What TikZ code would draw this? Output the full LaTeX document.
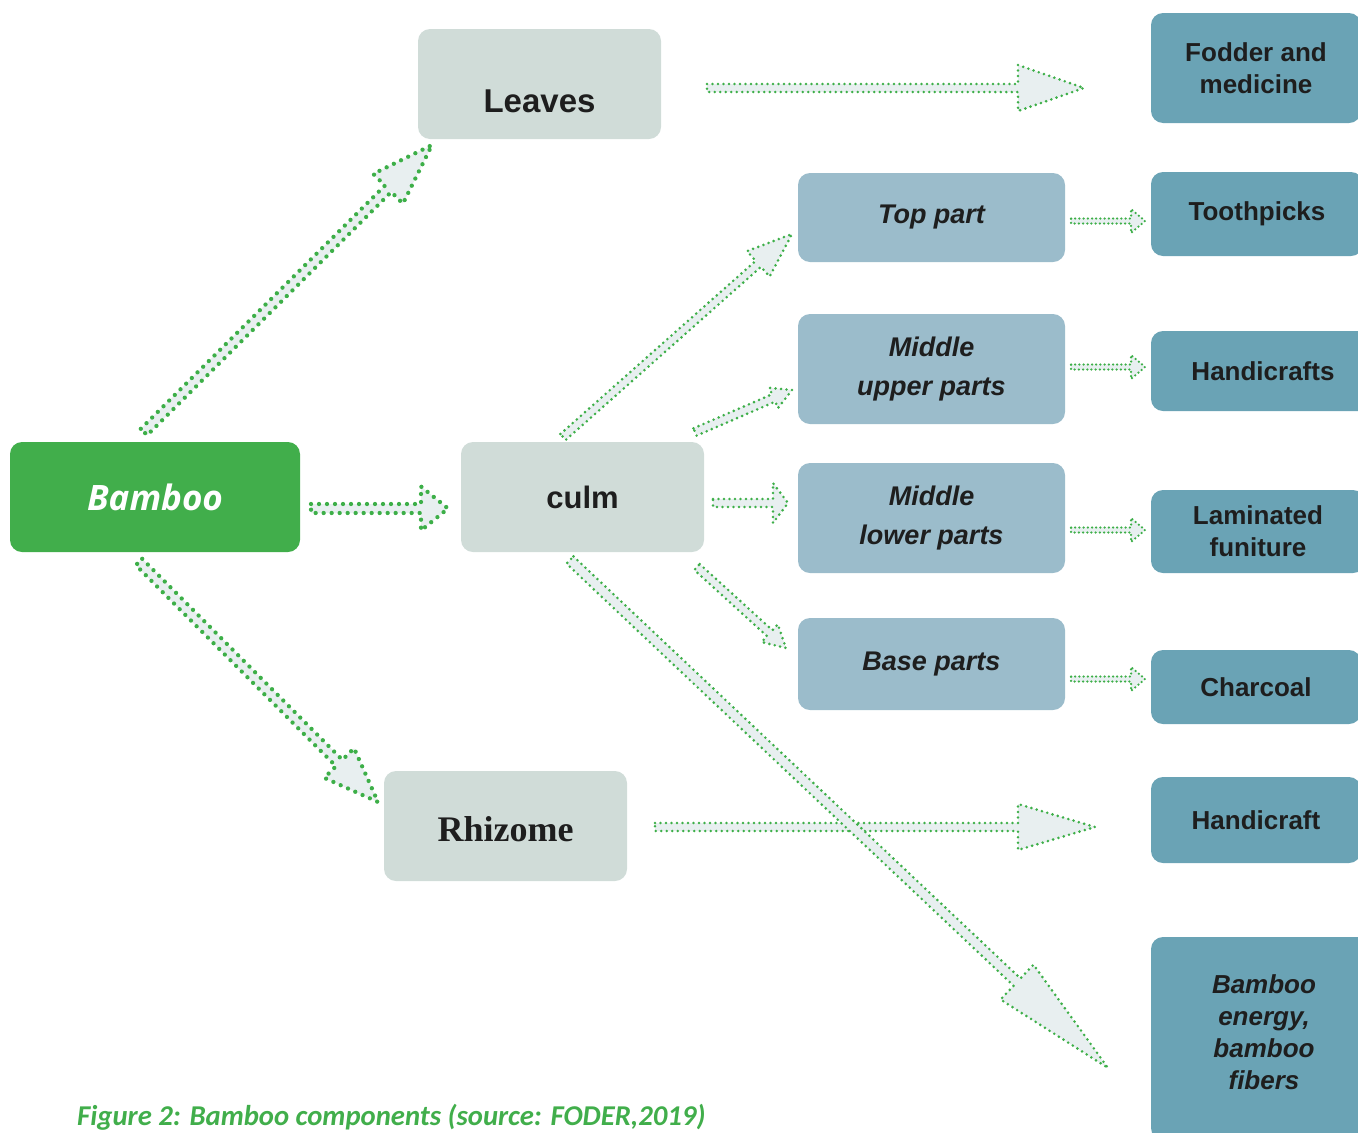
\documentclass[tikz,border=0pt]{standalone}
\usepackage{fontspec}
\setmainfont{Liberation Sans}
\newfontfamily\osans{Open Sans}
\newfontfamily\carl{Carlito}
\newfontfamily\lserif{Liberation Serif}
\usetikzlibrary{calc}
\definecolor{bambooG}{HTML}{41AE4B}
\definecolor{greyBox}{HTML}{D0DCD8}
\definecolor{midBlue}{HTML}{9BBCCB}
\definecolor{darkTeal}{HTML}{6AA3B5}
\definecolor{dotG}{HTML}{3DAF48}
\definecolor{arrFill}{HTML}{E8EFF0}
\definecolor{txt}{HTML}{1E1E1E}
\tikzset{
  box/.style={rectangle, rounded corners=12pt, draw=none, inner sep=0pt, align=center, text=txt},
  greybox/.style={box, fill=greyBox, minimum width=243pt, minimum height=110pt},
  bluebox/.style={box, fill=midBlue, minimum width=267pt, font=\fontsize{27}{39}\selectfont\bfseries\itshape},
  tealbox/.style={box, fill=darkTeal, font=\fontsize{26}{32}\selectfont\bfseries},
  barrow/.style={draw=dotG, fill=arrFill, line width=2.9pt, line cap=round, line join=round, dash pattern=on 0pt off 5.5pt},
  bigdots/.style={line width=4.3pt, dash pattern=on 0pt off 8pt},
  smalldots/.style={line width=2.5pt, dash pattern=on 0pt off 4.2pt},
}
\newcommand\blockarrow[6][]{%
  \path[barrow,#1] let \p1=($(#3)-(#2)$), \n1={atan2(\y1,\x1)}, \n2={veclen(\x1,\y1)} in
    ($(#2)+(\n1+90:#4pt)$)
    -- ($(#2)+(\n1:{(\n2-#5)*1pt})+(\n1+90:#4pt)$)
    -- ($(#2)+(\n1:{(\n2-#5)*1pt})+(\n1+90:#6pt)$)
    -- (#3)
    -- ($(#2)+(\n1:{(\n2-#5)*1pt})+(\n1-90:#6pt)$)
    -- ($(#2)+(\n1:{(\n2-#5)*1pt})+(\n1-90:#4pt)$)
    -- ($(#2)+(\n1-90:#4pt)$) -- cycle;}
\begin{document}
\begin{tikzpicture}[x=1pt,y=-1pt]
\useasboundingbox (0,0) rectangle (1358,1133);
% main nodes
\node[box, fill=bambooG, minimum width=290pt, minimum height=110pt, text=white, font=\osans\fontsize{35}{40}\selectfont\bfseries\itshape] (bamboo) at (155,497) {Bamboo};
\node[greybox, label={[font=\fontsize{33}{40}\selectfont\bfseries, text=txt, yshift=-17pt]center:Leaves}] (leaves) at (539.5,84) {};
\node[greybox, font=\fontsize{31}{38}\selectfont\bfseries] (culm) at (582.5,497) {culm};
\node[greybox, label={[font=\lserif\fontsize{36}{42}\selectfont\bfseries, text=txt, yshift=-3pt]center:Rhizome}] (rhizome) at (505.5,826) {};
% middle column
\node[bluebox, minimum height=89pt] (top) at (931.5,217.5) {Top part};
\node[bluebox, minimum height=110pt] (midup) at (931.5,369) {Middle\\upper parts};
\node[bluebox, minimum height=110pt] (midlow) at (931.5,518) {Middle\\lower parts};
\node[bluebox, minimum height=92pt] (base) at (931.5,664) {Base parts};
% right column
\node[tealbox, minimum width=210pt, minimum height=110pt] (fodder) at (1256,68) {Fodder and\\medicine};
\node[tealbox, minimum width=212pt, minimum height=84pt] (tooth) at (1257,214) {Toothpicks};
\node[tealbox, minimum width=224pt, minimum height=80pt] (handis) at (1263,371) {Handicrafts};
\node[tealbox, minimum width=214pt, minimum height=83pt] (lamin) at (1258,531.5) {Laminated\\funiture};
\node[tealbox, minimum width=210pt, minimum height=74pt] (charcoal) at (1256,687) {Charcoal};
\node[tealbox, minimum width=210pt, minimum height=86pt] (handi) at (1256,820) {Handicraft};
\node[tealbox, minimum width=226pt, minimum height=203pt, label={[align=center, text=txt, font=\fontsize{26}{32}\selectfont\bfseries\itshape, yshift=6.5pt]center:Bamboo\\energy,\\bamboo\\fibers}] (energy) at (1264,1038.5) {};
% arrow end points
\coordinate (s1) at (144,432); \coordinate (t1) at (432,145);
\coordinate (s2) at (311,508.5); \coordinate (t2) at (448,508.5);
\coordinate (s3) at (139,562); \coordinate (t3) at (378,802);
\coordinate (s4) at (707,88); \coordinate (t4) at (1084,88);
\coordinate (s5) at (563,437); \coordinate (t5) at (792,234);
\coordinate (s6) at (695,432); \coordinate (t6) at (792,390);
\coordinate (s7) at (713,503); \coordinate (t7) at (788,503);
\coordinate (s8) at (697,567); \coordinate (t8) at (786,648);
\coordinate (s9) at (570,560); \coordinate (t9) at (1108,1068);
\coordinate (s10) at (655,827); \coordinate (t10) at (1095,827);
\coordinate (s11) at (1071,221); \coordinate (t11) at (1145,221);
\coordinate (s12) at (1071,367); \coordinate (t12) at (1145,367);
\coordinate (s13) at (1071,530); \coordinate (t13) at (1145,530);
\coordinate (s14) at (1071,679); \coordinate (t14) at (1145,679);
% arrows
\blockarrow[bigdots]{s1}{t1}{4.5}{62}{21}
\blockarrow[bigdots]{s2}{t2}{4.5}{27}{22}
\blockarrow[bigdots]{s3}{t3}{4.5}{55}{21}
\blockarrow{s4}{t4}{4}{66}{23}
\blockarrow{s5}{t5}{4}{45}{17}
\blockarrow{s6}{t6}{4}{20}{11}
\blockarrow{s7}{t7}{4}{15}{20}
\blockarrow{s8}{t8}{4}{22}{12}
\blockarrow{s10}{t10}{4}{77}{23}
\blockarrow{s9}{t9}{5}{125}{24}
\blockarrow[smalldots]{s11}{t11}{2.5}{14}{12}
\blockarrow[smalldots]{s12}{t12}{2.5}{14}{12}
\blockarrow[smalldots]{s13}{t13}{2.5}{14}{12}
\blockarrow[smalldots]{s14}{t14}{2.5}{14}{12}
% caption
\node[anchor=west, inner sep=0pt, text=bambooG, font=\carl\fontsize{28.7}{32}\selectfont\bfseries\itshape] (caption) at (77,1117) {Figure 2: Bamboo components (source: FODER,2019)};
\end{tikzpicture}
\end{document}
